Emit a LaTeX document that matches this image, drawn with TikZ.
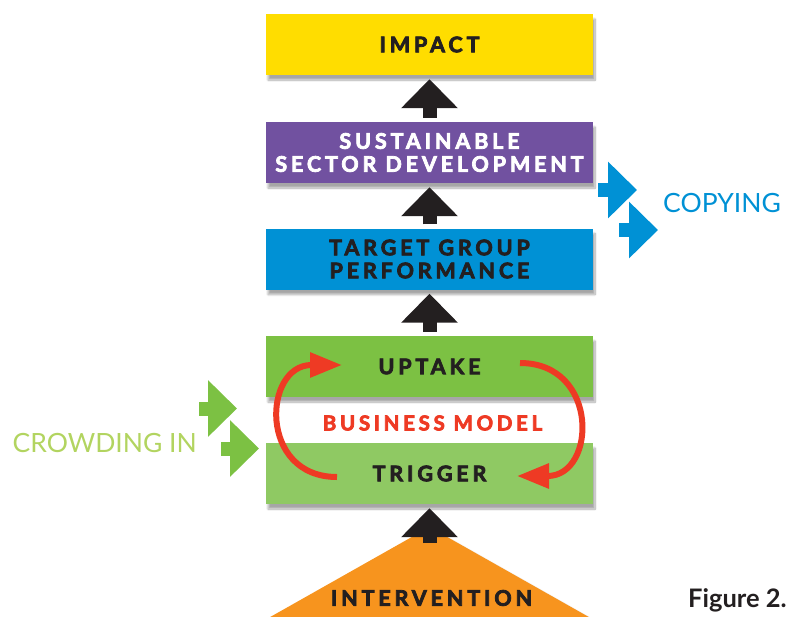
\documentclass[tikz,border=0pt]{standalone}
\usepackage{fontspec}
\setmainfont{Lato}
\newfontfamily\boxfont[LetterSpace=18, FakeBold=3.5]{Lato}
\usetikzlibrary{arrows.meta,shadows.blur}

\definecolor{impactyellow}{RGB}{255,221,0}
\definecolor{sectorpurple}{RGB}{113,81,160}
\definecolor{targetblue}{RGB}{0,145,213}
\definecolor{uptakegreen}{RGB}{124,193,67}
\definecolor{triggergreen}{RGB}{143,201,99}
\definecolor{cyclered}{RGB}{238,58,36}
\definecolor{interorange}{RGB}{247,148,30}
\definecolor{crowdgreen}{RGB}{178,212,96}
\definecolor{arrowblack}{RGB}{35,31,32}

\begin{document}
\begin{tikzpicture}[x=1pt, y=-1pt,
      Box/.style={minimum width=327pt, minimum height=61pt, inner sep=0pt, align=center,
        text=arrowblack, font=\boxfont\bfseries\fontsize{21.5}{23}\selectfont,
        blur shadow={shadow xshift=2pt, shadow yshift=-5pt, shadow blur steps=10, shadow opacity=35}},
      Side/.style={line width=14pt, -{Triangle[length=29pt,width=55pt]}},
      Flow/.style={Side, arrowblack, shorten <=4pt, shorten >=4pt},
      Loop/.style={line width=6pt, cyclered, -{Triangle[length=32pt,width=24pt]}}
    ]
    \useasboundingbox (0,0) rectangle (787,616);

    % orange base
    \coordinate (apex) at (429.5,527);
    \fill[interorange, blur shadow={shadow xshift=3pt, shadow yshift=-3pt, shadow blur steps=10, shadow opacity=30}]
      (229.5,640) -- (apex) -- (629.5,640) -- cycle;
    \node[font=\boxfont\bfseries\fontsize{21.5}{23}\selectfont, text=arrowblack] (intervention) at (431.5,598) {INTERVENTION};

    % the stack
    \node[Box, fill=impactyellow] (impact) at (429.5,44.5) {IMPACT};
    \node[Box, fill=sectorpurple, text=white] (sector) at (429.5,152.5) {SUSTAINABLE\\SECTOR DEVELOPMENT};
    \node[Box, fill=targetblue] (target) at (429.5,259) {TARGET GROUP\\PERFORMANCE};
    \node[Box, fill=uptakegreen] (uptake) at (429.5,366.5) {UPTAKE};
    \node[Box, fill=triggergreen] (trigger) at (429.5,473.5) {TRIGGER};
    \node[font=\boxfont\bfseries\fontsize{20.5}{22}\selectfont, text=cyclered] (model) at (432.5,423) {BUSINESS MODEL};

    \coordinate (push) at (429.5,543);
    \draw[Flow, shorten <=0pt] (push) -- (trigger.south);
    \draw[Flow] (uptake.north) -- (target.south);
    \draw[Flow] (target.north) -- (sector.south);
    \draw[Flow] (sector.north) -- (impact.south);

    % business model loop
    \coordinate (trigL) at (337,477);
    \coordinate (upL) at (342,365);
    \coordinate (upR) at (520,363);
    \coordinate (trigR) at (517,476);
    \draw[Loop] (trigL) to[out=180, in=180, looseness=1.8] (upL);
    \draw[Loop] (upR) to[out=0, in=0, looseness=1.8] (trigR);

    % copying
    \coordinate (copyA) at (598,190);
    \coordinate (copyB) at (619,230);
    \draw[Side, targetblue] (copyA) -- ++(39,0);
    \draw[Side, targetblue] (copyB) -- ++(39,0);
    \node[font=\fontsize{26.5}{30}\selectfont, text=targetblue, anchor=west, inner sep=0pt] (copying) at (663,203) {COPYING};

    % crowding in
    \coordinate (crowdA) at (199,408.5);
    \coordinate (crowdB) at (221,448.5);
    \draw[Side, uptakegreen] (crowdA) -- ++(38,0);
    \draw[Side, uptakegreen] (crowdB) -- ++(38,0);
    \node[font=\fontsize{26.5}{30}\selectfont, text=crowdgreen, anchor=east, inner sep=0pt] (crowding) at (197,442.5) {CROWDING IN};

    \node[font=\bfseries\fontsize{25.5}{30}\selectfont, text=arrowblack, anchor=base west, inner sep=0pt] (caption) at (688,607) {Figure 2.};
  \end{tikzpicture}
\end{document}
